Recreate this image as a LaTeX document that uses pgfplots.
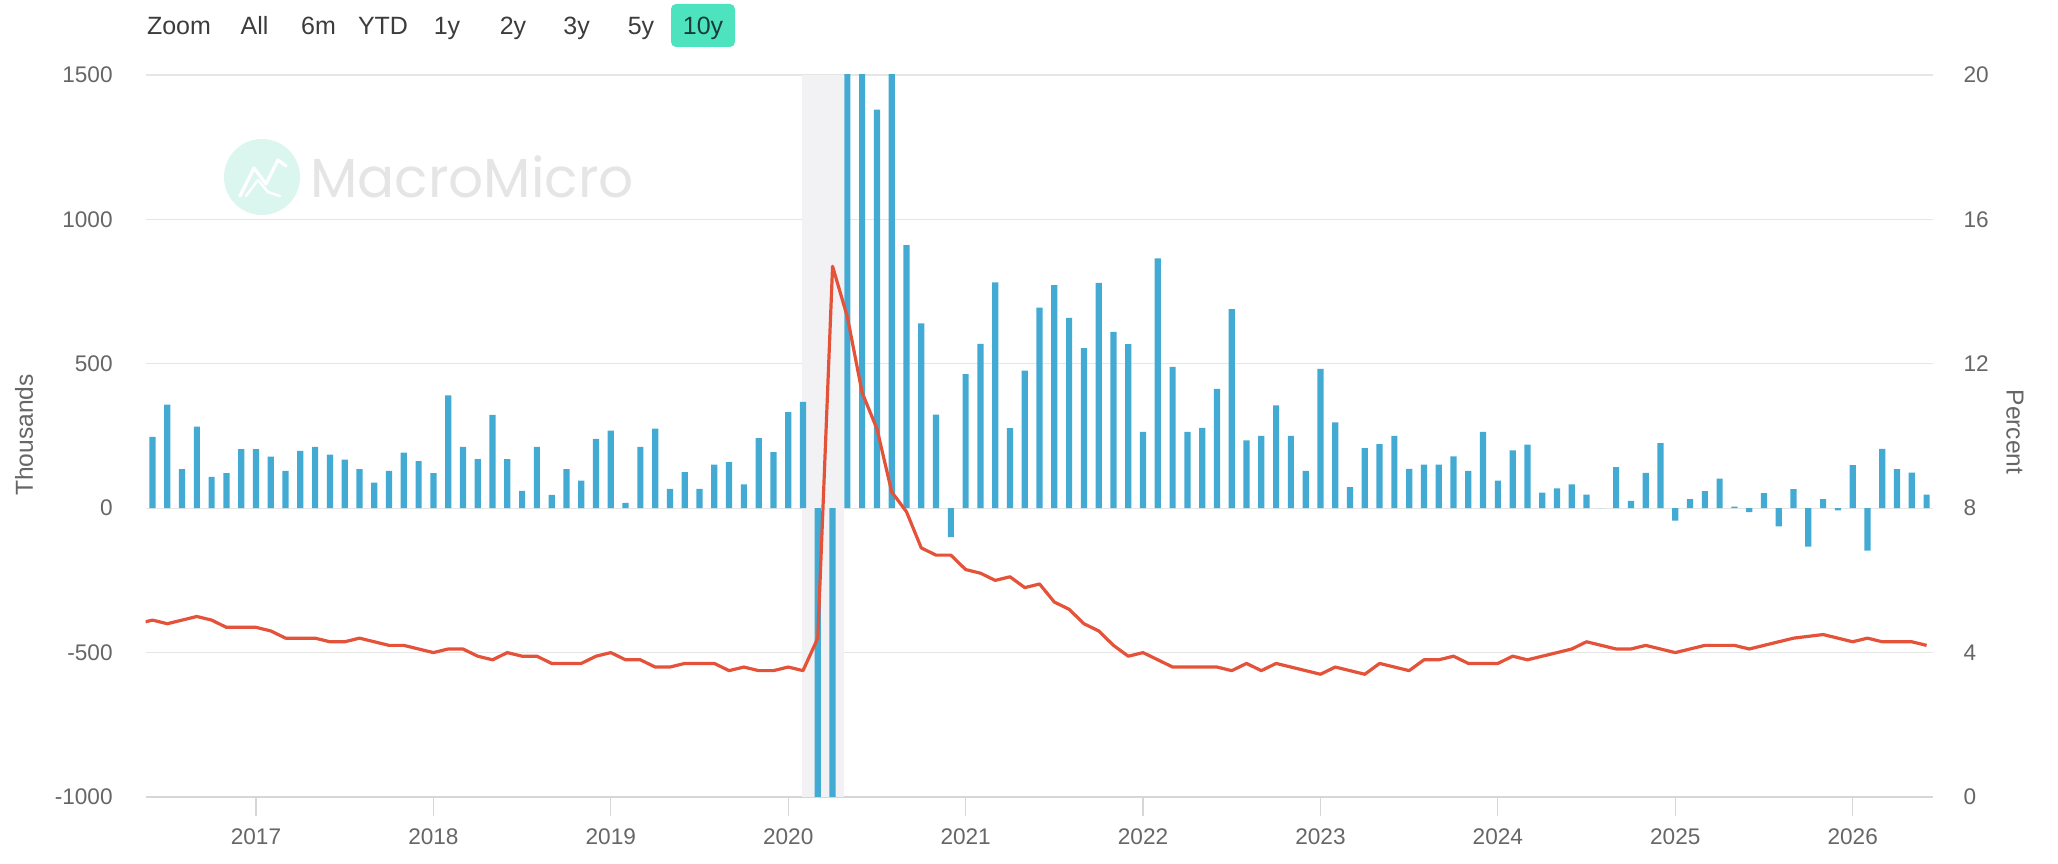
\documentclass[border=0pt]{standalone}
\usepackage{pgfplots}
\pgfplotsset{compat=1.18}
\usepackage{pgfplotstable}
\usepackage{fontspec}
\setmainfont{Liberation Sans}
\newfontfamily\wmfont{Poppins}
\definecolor{barblue}{RGB}{66,170,211}
\definecolor{linered}{RGB}{228,82,58}
\definecolor{gridc}{RGB}{230,230,230}
\definecolor{tickc}{RGB}{214,214,214}
\definecolor{labelc}{RGB}{102,102,102}
\definecolor{btntext}{RGB}{60,60,60}
\definecolor{btnteal}{RGB}{78,227,191}
\definecolor{bandc}{RGB}{242,242,244}
\definecolor{wmtext}{RGB}{229,229,229}
\definecolor{wmcircle}{RGB}{218,246,239}

% Nonfarm payrolls change (thousands), monthly from Jun 2016 (index 0)
\pgfplotstableread{
v
247
358
135
282
108
121
204
204
178
129
198
212
185
168
135
88
129
192
163
121
390
212
170
323
170
60
212
46
135
95
240
268
18
212
275
67
125
67
151
159
82
242
194
332
368
-1400
-20500
2800
4800
1380
1600
911
640
324
-100
464
569
782
277
476
694
772
659
554
780
610
568
264
865
489
264
278
413
689
235
250
356
250
129
482
297
73
208
222
250
136
151
151
179
129
264
95
200
220
54
68
82
47
0
142
25
122
225
-43
31
59
102
5
-14
52
-63
66
-133
31
-8
149
-147
205
135
123
47
}\bars

% Unemployment rate (percent), monthly from May 2016 (index -1)
\pgfplotstableread{
u
4.8
4.9
4.8
4.9
5.0
4.9
4.7
4.7
4.7
4.6
4.4
4.4
4.4
4.3
4.3
4.4
4.3
4.2
4.2
4.1
4.0
4.1
4.1
3.9
3.8
4.0
3.9
3.9
3.7
3.7
3.7
3.9
4.0
3.8
3.8
3.6
3.6
3.7
3.7
3.7
3.5
3.6
3.5
3.5
3.6
3.5
4.4
14.7
13.3
11.2
10.2
8.45
7.9
6.9
6.7
6.7
6.3
6.2
6.0
6.1
5.8
5.9
5.4
5.2
4.8
4.6
4.2
3.9
4.0
3.8
3.6
3.6
3.6
3.6
3.5
3.7
3.5
3.7
3.6
3.5
3.4
3.6
3.5
3.4
3.7
3.6
3.5
3.8
3.8
3.9
3.7
3.7
3.7
3.9
3.8
3.9
4.0
4.1
4.3
4.2
4.1
4.1
4.2
4.1
4.0
4.1
4.2
4.2
4.2
4.1
4.2
4.3
4.4
4.45
4.5
4.4
4.3
4.4
4.3
4.3
4.3
4.2
}\unemp

\begin{document}
\begin{tikzpicture}
\path[use as bounding box] (0,0) rectangle (1029bp,432bp);

% watermark
\fill[wmcircle] (131bp,343.5bp) circle (19bp);
\draw[white, line width=1.6bp, line join=round, line cap=round]
  (120bp,334bp) -- (127bp,348bp) -- (133bp,340bp) -- (139bp,352bp) -- (143bp,349bp);
\draw[white, line width=1.2bp, line join=round, line cap=round]
  (123bp,334bp) -- (129bp,342bp) -- (134bp,336bp) -- (140bp,334bp);
\node[font=\wmfont\fontsize{27.5bp}{30bp}\selectfont, text=wmtext, inner sep=0pt] at (236bp,343.5bp) {MacroMicro};

% range selector buttons
\fill[btnteal, rounded corners=2.5bp] (335.5bp,408.5bp) rectangle (367.5bp,430bp);
\begin{scope}[every node/.style={font=\fontsize{12.5bp}{14bp}\selectfont, text=btntext, inner sep=0pt, anchor=base}]
\node at (89.5bp,414.5bp) {Zoom};
\node at (127.3bp,414.5bp) {All};
\node at (159.3bp,414.5bp) {6m};
\node at (191.5bp,414.5bp) {YTD};
\node at (223.5bp,414.5bp) {1y};
\node at (256.5bp,414.5bp) {2y};
\node at (288.3bp,414.5bp) {3y};
\node at (320.5bp,414.5bp) {5y};
\node[text={rgb,255:red,25;green,60;blue,55}] at (351.5bp,414.5bp) {10y};
\end{scope}

\begin{axis}[
  at={(72.85bp,33.5bp)}, anchor=south west,
  width=893.7bp, height=361bp, scale only axis,
  xmin=-0.46, xmax=120.44, ymin=-1000, ymax=1500,
  axis x line*=bottom, axis y line*=left,
  x axis line style={draw=tickc, line width=0.6bp},
  y axis line style={draw=none},
  xtick={7,19,31,43,55,67,79,91,103,115},
  xticklabels={2017,2018,2019,2020,2021,2022,2023,2024,2025,2026},
  ytick={-1000,-500,0,500,1000,1500},
  yticklabels={-1000,-500,0,500,1000,1500},
  ymajorgrids, major grid style={draw=gridc, line width=0.6bp},
  tick align=outside, major tick length=9.5bp,
  xtick style={draw=tickc, line width=0.6bp},
  ytick style={draw=none},
  ticklabel style={font=\fontsize{11.3bp}{13bp}\selectfont, text=labelc},
  yticklabel style={inner sep=0pt, xshift=-6.85bp},
  xticklabel style={inner sep=0pt, yshift=-6.3bp},
]
\addplot[draw=none, fill=bandc, forget plot] coordinates {(43.9,-1000) (43.9,1500) (46.8,1500) (46.8,-1000)} -- cycle;
\addplot[ybar, bar width=3.1bp, fill=barblue, draw=none] table[x expr=\coordindex, y=v]{\bars};
\end{axis}

\begin{axis}[
  at={(72.85bp,33.5bp)}, anchor=south west,
  width=893.7bp, height=361bp, scale only axis,
  xmin=-0.46, xmax=120.44, ymin=0, ymax=20,
  axis x line=none, axis y line*=right,
  y axis line style={draw=none},
  xtick=\empty,
  ytick={0,4,8,12,16,20},
  yticklabels={0,4,8,12,16,20},
  ytick style={draw=none}, major tick length=0pt,
  ticklabel style={font=\fontsize{11.3bp}{13bp}\selectfont, text=labelc},
  yticklabel style={inner sep=0pt, anchor=west, xshift=15bp},
]
\addplot[linered, line width=1.6bp, line join=round, no marks] table[x expr=\coordindex-1, y=u]{\unemp};
\end{axis}

\node[rotate=90, font=\fontsize{12.3bp}{14bp}\selectfont, text=labelc] at (12bp,214.5bp) {Thousands};
\node[rotate=-90, font=\fontsize{12.3bp}{14bp}\selectfont, text=labelc] at (1007.5bp,216bp) {Percent};
\end{tikzpicture}
\end{document}
